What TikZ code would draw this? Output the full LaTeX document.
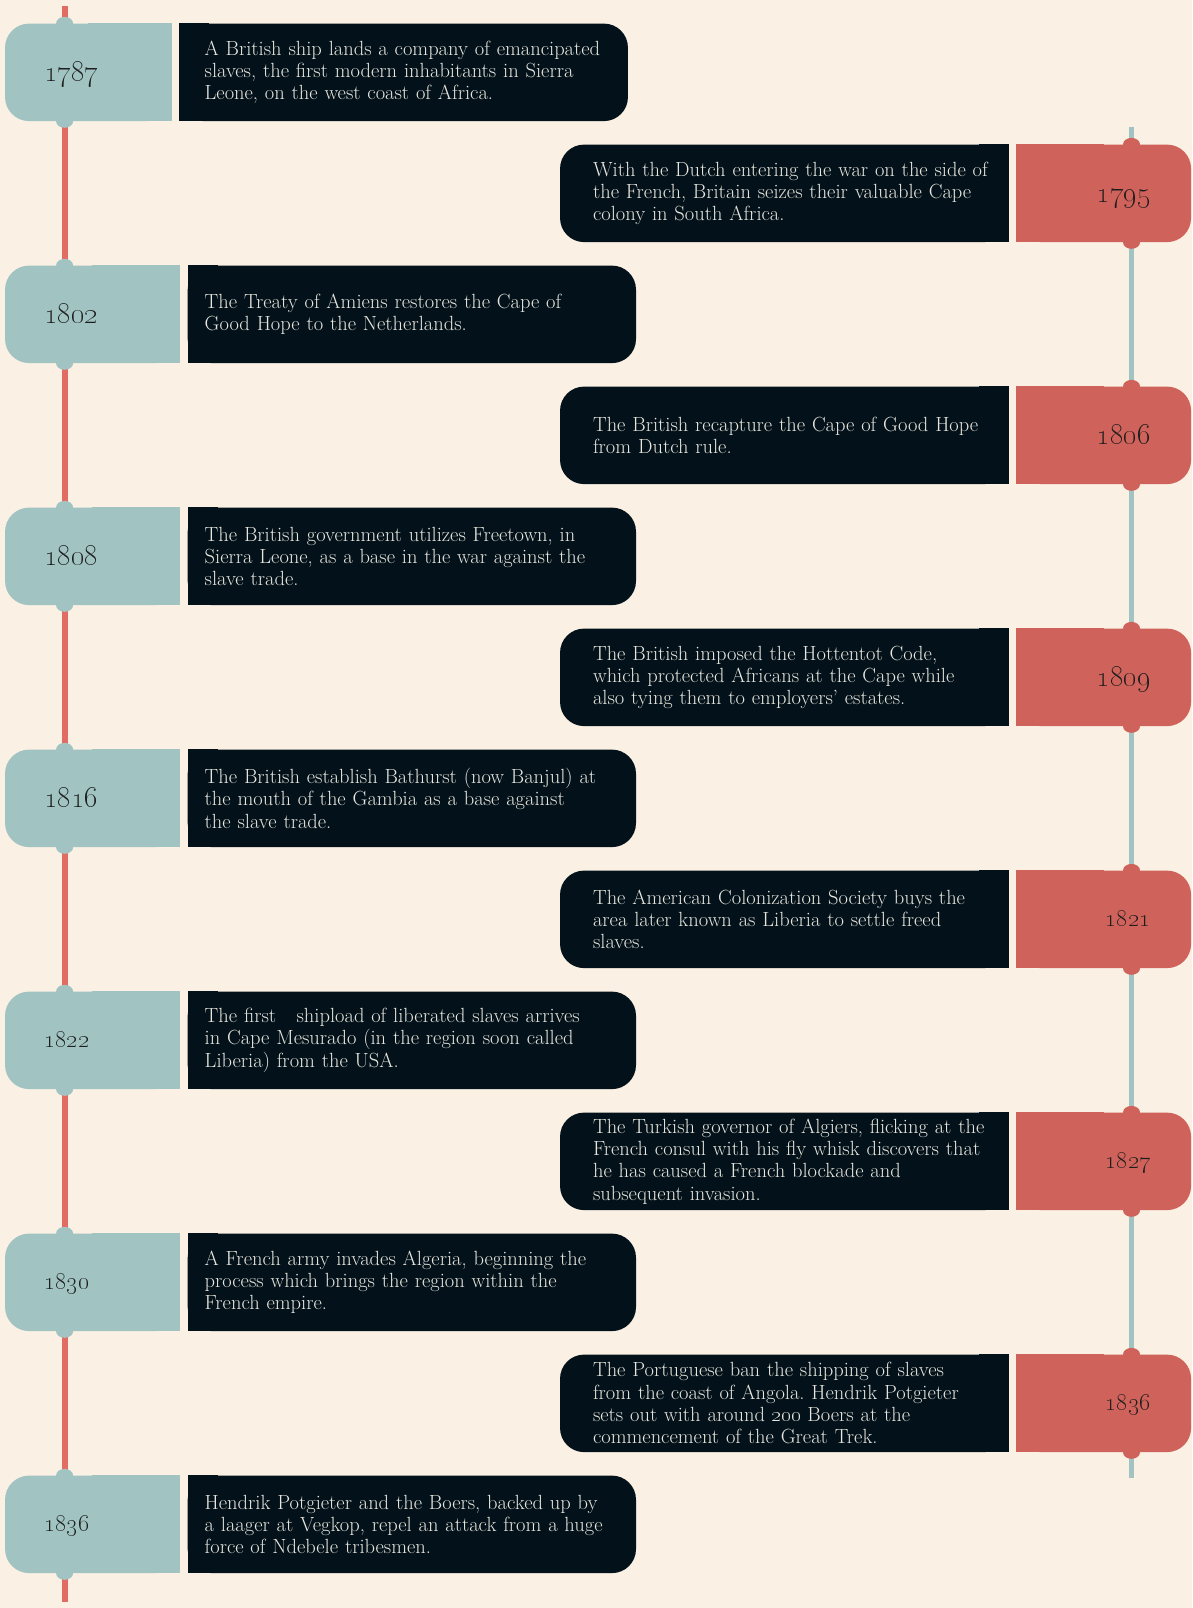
\documentclass[tikz,border=0pt]{standalone}
\usetikzlibrary{backgrounds}
\definecolor{cbg}{HTML}{FAF0E3}
\definecolor{cteal}{HTML}{A1C4C3}
\definecolor{cred}{HTML}{CF625A}
\definecolor{cpink}{HTML}{E26B63}
\definecolor{cdark}{HTML}{03121A}
\definecolor{ctext}{HTML}{E8E6DE}
\definecolor{cyear}{HTML}{1E1E1E}
\newcommand\evfont{\fontsize{20.5}{22.3}\selectfont\frenchspacing}
\tikzset{
  tabL/.style={fill=cteal, rounded corners=24pt, minimum width=174.5pt, minimum height=97.5pt, inner sep=0pt},
  tabR/.style={tabL, fill=cred},
  ev/.style={fill=cdark, rounded corners=24pt, text=ctext, font=\evfont, align=left, text width=440.3pt,
    inner xsep=4pt, inner ysep=2pt, minimum width=448.3pt, minimum height=97.5pt, execute at begin node={\leftskip=#1}},
  ev/.default=13pt,
  yr/.style={font=\fontsize{#1}{#1}\selectfont, text=cyear, inner sep=0pt},
  yrL/.style={yr=#1, anchor=base west},
  yrR/.style={yr=#1, anchor=base east},
  spine/.style={line width=6pt},
}

\begin{document}
\begin{tikzpicture}[x=1pt, y=-1pt]
  \useasboundingbox (0,0) rectangle (1192,1608);
  \begin{scope}[on background layer]
    \fill[cbg] (0,0) rectangle (1192,1608);
  \end{scope}
  \coordinate (sLtop) at (64.6,6);
  \coordinate (sLbot) at (64.6,1602);
  \coordinate (sRtop) at (1131.5,127);
  \coordinate (sRbot) at (1131.5,1478);
  \draw[spine, cpink] (sLtop) -- (sLbot);
  \draw[spine, cteal, line width=5pt] (sRtop) -- (sRbot);

  % left column
  \node[tabL, minimum width=166.3pt] (tab1787) at (88.2,72.35) {};
  \node[ev=21pt] (ev1787) at (403.8,72.35) {A British ship lands a company of emancipated\\slaves, the first modern inhabitants in Sierra\\Leone, on the west coast of Africa.};
  \node[tabL] (tab1802) at (92.3,314.35) {};
  \node[ev] (ev1802) at (411.85,314.35) {The Treaty of Amiens restores the Cape of\\Good Hope to the Netherlands.};
  \node[tabL] (tab1808) at (92.3,556.35) {};
  \node[ev] (ev1808) at (411.85,556.35) {The British government utilizes Freetown, in\\Sierra Leone, as a base in the war against the\\slave trade.};
  \node[tabL] (tab1816) at (92.3,798.35) {};
  \node[ev] (ev1816) at (411.85,798.35) {The British establish Bathurst (now Banjul) at\\the mouth of the Gambia as a base against\\the slave trade.};
  \node[tabL] (tab1822) at (92.3,1040.35) {};
  \node[ev] (ev1822) at (411.85,1040.35) {The first\ \ \ shipload of liberated slaves arrives\\in Cape Mesurado (in the region soon called\\Liberia) from the USA.};
  \node[tabL] (tab1830) at (92.3,1282.35) {};
  \node[ev] (ev1830) at (411.85,1282.35) {A French army invades Algeria, beginning the\\process which brings the region within the\\French empire.};
  \node[tabL] (tab1836b) at (92.3,1524.35) {};
  \node[ev] (ev1836b) at (411.85,1524.35) {Hendrik Potgieter and the Boers, backed up by\\a laager at Vegkop, repel an attack from a huge\\force of Ndebele tribesmen.};

  % right column
  \node[tabR] (tab1795) at (1103.8,193.35) {};
  \node[ev=29pt] (ev1795) at (784.2,193.35) {With the Dutch entering the war on the side of\\the French, Britain seizes their valuable Cape\\colony in South Africa.};
  \node[tabR] (tab1806) at (1103.8,435.35) {};
  \node[ev=29pt] (ev1806) at (784.2,435.35) {The British recapture the Cape of Good Hope\\from Dutch rule.};
  \node[tabR] (tab1809) at (1103.8,677.35) {};
  \node[ev=29pt] (ev1809) at (784.2,677.35) {The British imposed the Hottentot Code,\\which protected Africans at the Cape while\\also tying them to employers' estates.};
  \node[tabR] (tab1821) at (1103.8,919.35) {};
  \node[ev=29pt] (ev1821) at (784.2,919.35) {The American Colonization Society buys the\\area later known as Liberia to settle freed\\slaves.};
  \node[tabR] (tab1827) at (1103.8,1161.35) {};
  \node[ev=29pt] (ev1827) at (784.2,1161.35) {The Turkish governor of Algiers, flicking at the\\French consul with his fly whisk discovers that\\he has caused a French blockade and\\subsequent invasion.};
  \node[tabR] (tab1836a) at (1103.8,1403.35) {};
  \node[ev=29pt] (ev1836a) at (784.2,1403.35) {The Portuguese ban the shipping of slaves\\from the coast of Angola. Hendrik Potgieter\\sets out with around \oldstylenums{200} Boers at the\\commencement of the Great Trek.};

  % square corners and bumps on the spines
  \foreach \n in {1787,1802,1808,1816,1822,1830,1836b} {
    \fill[cteal] (tab\n.north) rectangle (tab\n.south east);
    \fill[cteal] (tab\n.north -| sLtop) ellipse [x radius=8.5, y radius=6.5];
    \fill[cteal] (tab\n.south -| sLtop) ellipse [x radius=8.5, y radius=6.5];
    \begin{scope}[on background layer]
      \fill[cdark] (ev\n.north west) rectangle ([xshift=30pt]ev\n.south west);
    \end{scope}
  }
  \foreach \n in {1795,1806,1809,1821,1827,1836a} {
    \fill[cred] (tab\n.north west) rectangle (tab\n.south);
    \fill[cred] (tab\n.north -| sRtop) ellipse [x radius=8.5, y radius=6.5];
    \fill[cred] (tab\n.south -| sRtop) ellipse [x radius=8.5, y radius=6.5];
    \begin{scope}[on background layer]
      \fill[cdark] ([xshift=-30pt]ev\n.north east) rectangle (ev\n.south east);
    \end{scope}
  }

  % years
  \node[yrL=29.5] (yr1787) at (44,81.35) {\oldstylenums{1787}};
  \node[yrR=28.5] (yr1795) at (1151,202.35) {\oldstylenums{1795}};
  \node[yrL=30.5] (yr1802) at (44,323.35) {\oldstylenums{1802}};
  \node[yrR=30] (yr1806) at (1151,444.35) {\oldstylenums{1806}};
  \node[yrL=31] (yr1808) at (44,565.35) {\oldstylenums{1808}};
  \node[yrR=30] (yr1809) at (1151,686.35) {\oldstylenums{1809}};
  \node[yrL=28.5] (yr1816) at (44,807.35) {\oldstylenums{1816}};
  \node[yrR=23] (yr1821) at (1151,926.35) {\oldstylenums{1821}};
  \node[yrL=25] (yr1822) at (44,1047.35) {\oldstylenums{1822}};
  \node[yrR=24.5] (yr1827) at (1151,1168.35) {\oldstylenums{1827}};
  \node[yrL=26] (yr1830) at (44,1289.35) {\oldstylenums{1830}};
  \node[yrR=26] (yr1836a) at (1151,1410.35) {\oldstylenums{1836}};
  \node[yrL=26] (yr1836b) at (44,1531.35) {\oldstylenums{1836}};
\end{tikzpicture}
\end{document}
